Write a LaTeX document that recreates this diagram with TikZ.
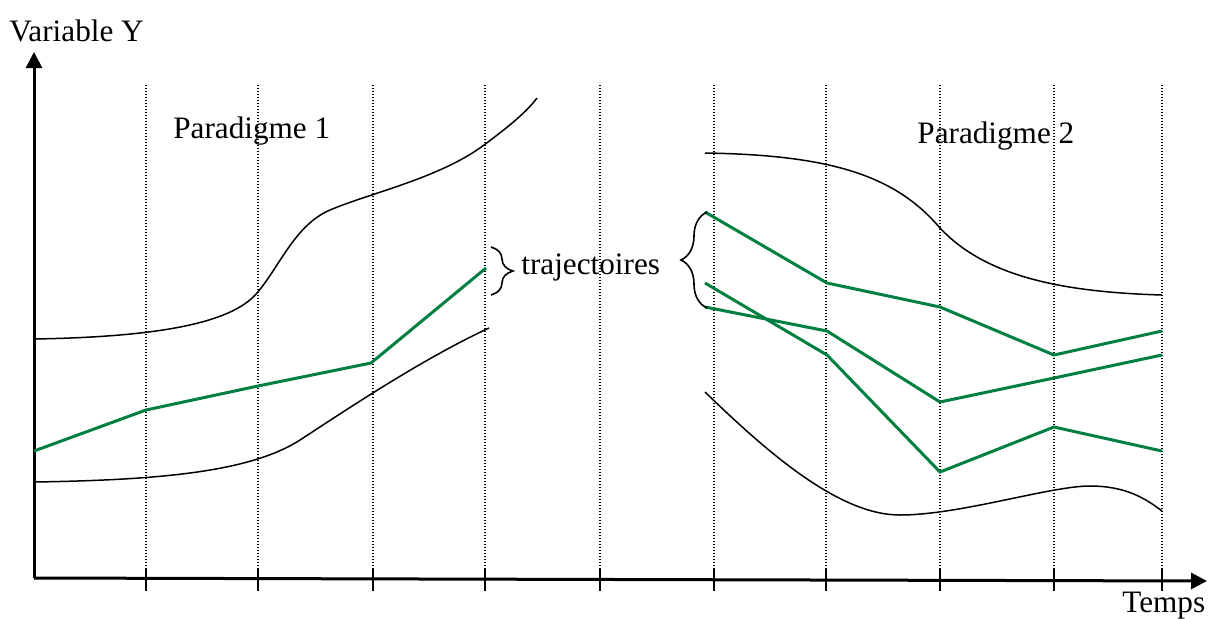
\documentclass[tikz,border=0pt]{standalone}
\usepackage{fontspec}
\setmainfont{Liberation Serif}
\usetikzlibrary{arrows.meta,decorations.pathreplacing}
\definecolor{trajgreen}{RGB}{0,128,64}
\begin{document}
\begin{tikzpicture}[x=0.5pt,y=-0.5pt,
  axis/.style={line width=1.5pt,-{Triangle[length=8pt,width=8pt]}},
  gridline/.style={line width=0.6pt,dash pattern=on 0.6pt off 0.9pt},
  tickmark/.style={line width=0.55pt},
  bound/.style={line width=0.75pt},
  traj/.style={line width=1.5pt,trajgreen,line join=miter},
  lbl/.style={font=\fontsize{15.6}{18}\selectfont,inner sep=0pt,anchor=base west},
  brc/.style={decorate,decoration={brace,amplitude=#1},line width=0.8pt}
]
\useasboundingbox (0,0) rectangle (1210,618);

% grid and ticks
\foreach \x in {146,258,373,485,600,714,826,940,1054,1162}{
  \draw[gridline] (\x,85) -- (\x,579);
  \draw[tickmark] (\x,568) -- (\x,591);
}

% axes
\coordinate (O) at (34,578);
\coordinate (ytip) at (34,52);
\coordinate (xtip) at (1207,581);
\draw[axis] (O) -- (ytip);
\draw[axis] (O) -- (xtip);

% labels
\node[lbl] (vary) at (9,41) {Variable Y};
\node[lbl] (p1) at (173,138) {Paradigme 1};
\node[lbl] (p2) at (917,143) {Paradigme 2};
\node[lbl] (trajlbl) at (521,274) {trajectoires};
\node[lbl] (temps) at (1122,612) {Temps};

% paradigm 1 bounds
\draw[bound] (34,339) .. controls (150,337) and (230,325) .. (257,293)
  .. controls (280,266) and (295,225) .. (330,210)
  .. controls (370,193) and (440,178) .. (484,145)
  .. controls (504,130) and (525,114) .. (537,98);
\draw[bound] (34,482) .. controls (160,480) and (250,472) .. (300,440)
  .. controls (340,414) and (420,360) .. (489,328);

% paradigm 1 trajectory
\draw[traj] (34,451) -- (146,410) -- (258,386) -- (371,363) -- (486,268);

% paradigm 2 bounds
\draw[bound] (705,153) .. controls (830,155) and (895,175) .. (940,228)
  .. controls (985,276) and (1060,292) .. (1162,295);
\draw[bound] (705,392) .. controls (770,455) and (840,515) .. (900,515)
  .. controls (960,515) and (1050,486) .. (1090,486)
  .. controls (1125,486) and (1145,498) .. (1162,511);

% paradigm 2 trajectories
\draw[traj] (705,212) -- (827,283) -- (940,307) -- (1054,355) -- (1162,331);
\draw[traj] (705,283) -- (827,355) -- (940,472) -- (1054,427) -- (1162,451);
\draw[traj] (705,307) -- (827,331) -- (940,402) -- (1054,378) -- (1162,355);

% braces
\draw[brc=11pt] (491,247) -- (491,295);
\draw[brc=13pt] (707,308) -- (707,212);
\end{tikzpicture}
\end{document}
